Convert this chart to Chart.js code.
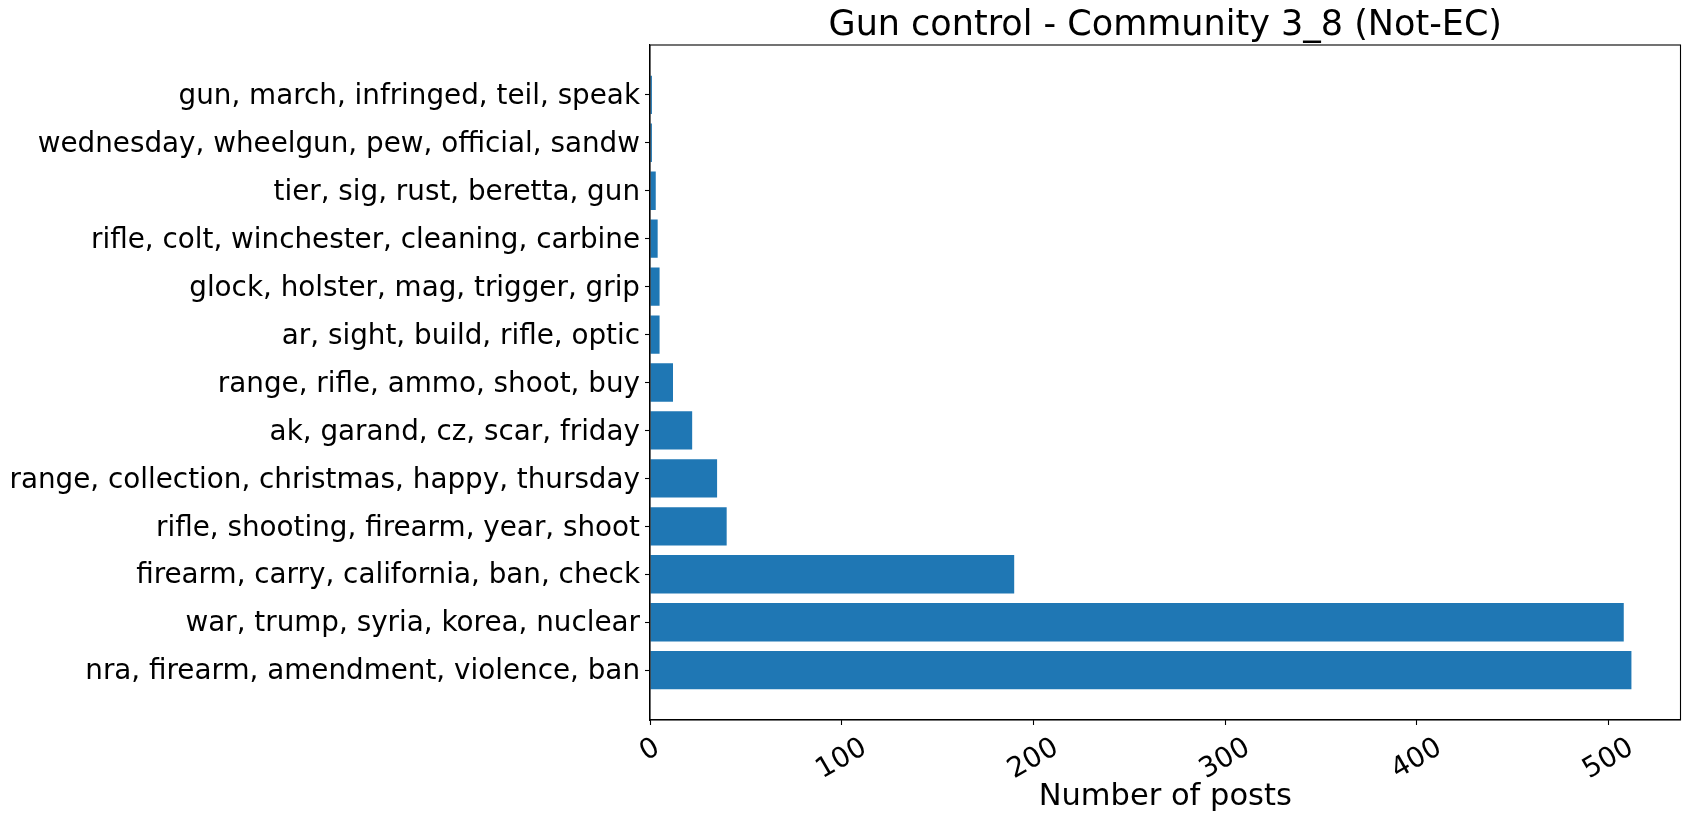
<!DOCTYPE html>
<html>
<head>
<meta charset="utf-8">
<script src="https://cdn.jsdelivr.net/npm/chart.js@4"></script>
<style>
  body { margin: 0; background: #fff; }
  canvas { display: block; }
</style>
</head>
<body>
<canvas id="barChart" width="1690" height="825"></canvas>
<script>
// topics, bottom to top (as matplotlib draws barh)
var topics = [
  "nra, firearm, amendment, violence, ban",
  "war, trump, syria, korea, nuclear",
  "firearm, carry, california, ban, check",
  "rifle, shooting, firearm, year, shoot",
  "range, collection, christmas, happy, thursday",
  "ak, garand, cz, scar, friday",
  "range, rifle, ammo, shoot, buy",
  "ar, sight, build, rifle, optic",
  "glock, holster, mag, trigger, grip",
  "rifle, colt, winchester, cleaning, carbine",
  "tier, sig, rust, beretta, gun",
  "wednesday, wheelgun, pew, official, sandw",
  "gun, march, infringed, teil, speak"
];
var posts = [512, 508, 190, 40, 35, 22, 12, 5, 5, 4, 3, 1, 1];
var xTicks = [0, 100, 200, 300, 400, 500];

var FONT = "DejaVu Sans";
var tickPx = 27.8;

// matplotlib style box around the axes
var framePlugin = {
  id: 'frame',
  afterDatasetsDraw: function (chart) {
    var a = chart.chartArea, ctx = chart.ctx;
    ctx.save();
    ctx.strokeStyle = '#000';
    ctx.lineWidth = 1.1;
    ctx.strokeRect(a.left, a.top, a.right - a.left, a.bottom - a.top);
    ctx.restore();
  }
};

// x tick labels rotated 30deg, centred under the tick like matplotlib
var xLabelPlugin = {
  id: 'xlabels',
  afterDraw: function (chart) {
    var sc = chart.scales.x, ctx = chart.ctx;
    var top = chart.chartArea.bottom + 12;
    ctx.save();
    ctx.font = tickPx + 'px "' + FONT + '"';
    ctx.fillStyle = '#000';
    ctx.textAlign = 'center';
    ctx.textBaseline = 'middle';
    sc.ticks.forEach(function (t) {
      var txt = String(t.value);
      var w = ctx.measureText(txt).width;
      var h = w * 0.5 + tickPx * 1.164 * 0.866;
      ctx.save();
      ctx.translate(sc.getPixelForValue(t.value), top + h / 2);
      ctx.rotate(-Math.PI / 6);
      ctx.fillText(txt, 0, 0);
      ctx.restore();
    });
    ctx.restore();
  }
};

var barData = posts.map(function (v, i) { return { x: v, y: i }; });

var myChart = new Chart(document.getElementById('barChart'), {
  type: 'bar',
  data: {
    datasets: [{
      data: barData,
      backgroundColor: '#1f77b4',
      borderWidth: 0,
      categoryPercentage: 1,
      barPercentage: 0.8
    }]
  },
  options: {
    indexAxis: 'y',
    responsive: false,
    animation: false,
    layout: { padding: { left: 0, right: 9.5, top: 0, bottom: 10 } },
    plugins: {
      legend: { display: false },
      tooltip: { enabled: false },
      title: {
        display: true,
        fullSize: false,
        text: 'Gun control - Community 3_8 (Not-EC)',
        color: '#000',
        font: { family: FONT, size: 35, weight: 'normal', lineHeight: 1 },
        padding: { top: 8, bottom: 2 }
      }
    },
    scales: {
      x: {
        type: 'linear',
        min: 0,
        max: 537.6,
        afterBuildTicks: function (s) {
          s.ticks = xTicks.map(function (v) { return { value: v }; });
        },
        afterFit: function (s) { s.height = 95; },
        grid: { drawOnChartArea: false, tickLength: 5, tickColor: '#000', tickWidth: 1.1 },
        border: { color: '#000', width: 1.1 },
        ticks: { display: false },
        title: {
          display: true,
          text: 'Number of posts',
          color: '#000',
          font: { family: FONT, size: 30.5, weight: 'normal' },
          padding: { top: 0, bottom: 0 }
        }
      },
      y: {
        type: 'linear',
        offset: false,
        min: -1.04,
        max: 13.04,
        afterBuildTicks: function (s) {
          s.ticks = topics.map(function (_, i) { return { value: i }; });
        },
        afterFit: function (s) { s.width = 650; },
        grid: { drawOnChartArea: false, offset: false, tickLength: 5, tickColor: '#000', tickWidth: 1.1 },
        border: { color: '#000', width: 1.1 },
        ticks: {
          color: '#000',
          padding: 5,
          labelOffset: 2,
          font: { family: FONT, size: tickPx },
          callback: function (v) { return topics[v] !== undefined ? topics[v] : ''; }
        }
      }
    }
  },
  plugins: [framePlugin, xLabelPlugin]
});
</script>
</body>
</html>
